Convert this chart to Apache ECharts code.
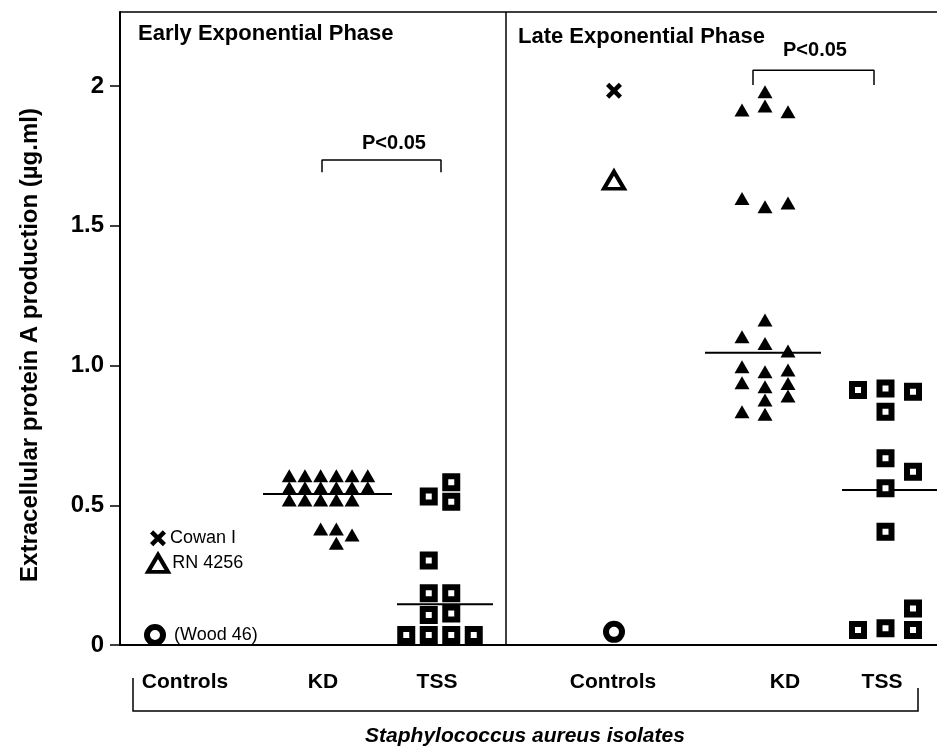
<!DOCTYPE html>
<html>
<head>
<meta charset="utf-8">
<script src="https://cdn.jsdelivr.net/npm/echarts@6/dist/echarts.min.js"></script>
<style>
html,body{margin:0;padding:0;background:#fff;}
#main{width:937px;height:746px;}
</style>
</head>
<body>
<div id="main"></div>
<script>
// ---------------- DATA ----------------
const categories = ['Controls', 'KD', 'TSS', 'Controls', 'KD', 'TSS'];
const yTickValues = [0, 0.5, 1.0, 1.5, 2];
const yTickLabels = ['0', '0.5', '1.0', '1.5', '2'];

// Controls (early / late): Cowan I, RN 4256, Wood 46
const controlNames = ['Cowan I', 'RN 4256', '(Wood 46)'];
const earlyControls = [0.382, 0.292, 0.036];
const lateControls = [1.983, 1.663, 0.047];

// Early exponential phase - KD isolates (values + column slot in the dot plot)
const earlyKD = [0.606, 0.606, 0.606, 0.606, 0.606, 0.606,
                 0.563, 0.563, 0.563, 0.563, 0.563, 0.563,
                 0.519, 0.519, 0.519, 0.519, 0.519,
                 0.415, 0.415, 0.394, 0.364];
const earlyKDCols = [-2.5, -1.5, -0.5, 0.5, 1.5, 2.5,
                     -2.5, -1.5, -0.5, 0.5, 1.5, 2.5,
                     -2.5, -1.5, -0.5, 0.5, 1.5,
                     -0.5, 0.5, 1.5, 0.5];

// Early exponential phase - TSS isolates
const earlyTSS = [0.531, 0.582, 0.513, 0.302, 0.185, 0.185, 0.107, 0.113, 0.036, 0.036, 0.036, 0.036];
const earlyTSSCols = [-0.5, 0.5, 0.5, -0.5, -0.5, 0.5, -0.5, 0.5, -1.5, -0.5, 0.5, 1.5];

// Late exponential phase - KD isolates
const lateKD = [1.980, 1.914, 1.929, 1.908, 1.598, 1.568, 1.582,
                1.163, 1.103, 1.079, 1.052, 0.996, 0.978, 0.984,
                0.938, 0.924, 0.936, 0.877, 0.891, 0.835, 0.826];
const lateKDCols = [0, -1, 0, 1, -1, 0, 1,
                    0, -1, 0, 1, -1, 0, 1,
                    -1, 0, 1, 0, 1, -1, 0];

// Late exponential phase - TSS isolates
const lateTSS = [0.912, 0.918, 0.906, 0.835, 0.668, 0.620, 0.561, 0.405, 0.131, 0.054, 0.060, 0.054];
const lateTSSCols = [-1, 0, 1, 0, 0, 1, 0, 0, 1, -1, 0, 1];

// Medians (horizontal bars)
const medians = { earlyKD: 0.540, earlyTSS: 0.146, lateKD: 1.046, lateTSS: 0.555 };

// Significance brackets
const sigLabel = 'P<0.05';
const bracketEarly = { top: 1.735, foot: 1.692 };
const bracketLate = { top: 2.057, foot: 2.004 };

// ---------------- LAYOUT (positions in x-axis units) ----------------
const L = {
  ctrlEarly: 38, kdEarly: 208.5, tssEarly: 320,
  ctrlLate: 494, kdLate: 645, tssLate: 765.5,
  kdEarlyCol: 15.7, tssEarlyCol: 22.5, kdLateCol: 23, tssLateCol: 27.5,
  divider: 386,
  medEarlyKD: [143, 272], medEarlyTSS: [277, 373], medLateKD: [585, 701], medLateTSS: [722, 817],
  brEarly: [202, 321], brLate: [633, 754]
};

function pts(vals, cols, center, w) {
  return vals.map((v, i) => [center + cols[i] * w, v]);
}
function hline(range, v) { return [[range[0], v], [range[1], v]]; }
function bracket(r, b) { return [[r[0], b.foot], [r[0], b.top], [r[1], b.top], [r[1], b.foot]]; }

const FONT = 'Liberation Sans';
const crossPath = 'path://M2,0 L5,3 L8,0 L10,2 L7,5 L10,8 L8,10 L5,7 L2,10 L0,8 L3,5 L0,2 Z';

const triStyle = { color: '#000', opacity: 1 };
const squareStyle = { color: '#fff', borderColor: '#000', borderWidth: 6, opacity: 1 };

const chart = echarts.init(document.getElementById('main'), null, { renderer: 'canvas' });

const lineBase = { type: 'line', symbol: 'none', silent: true, animation: false,
  lineStyle: { color: '#000', width: 2 }, z: 1 };

chart.setOption({
  backgroundColor: '#fff',
  animation: false,
  grid: { left: 120, right: 0, top: 12, bottom: 101, show: false },
  xAxis: [{
    type: 'value', min: 0, max: 817,
    axisLine: { show: true, lineStyle: { color: '#000', width: 2 } },
    axisTick: { show: false }, axisLabel: { show: false }, splitLine: { show: false }
  }, {
    type: 'value', min: 0, max: 817, position: 'top',
    axisLine: { show: true, lineStyle: { color: '#000', width: 1.5 } },
    axisTick: { show: false }, axisLabel: { show: false }, splitLine: { show: false }
  }],
  yAxis: {
    type: 'value', min: 0, max: 2.265,
    axisLine: { show: true, lineStyle: { color: '#000', width: 2 } },
    axisTick: { show: true, length: 10, inside: false, customValues: yTickValues, lineStyle: { color: '#000', width: 1.5 } },
    axisLabel: {
      customValues: yTickValues, margin: 16, color: '#000', fontFamily: FONT, fontWeight: 'bold', fontSize: 24,
      formatter: v => yTickLabels[yTickValues.indexOf(v)] ?? ''
    },
    splitLine: { show: false }
  },
  series: [
    // controls
    { type: 'scatter', symbol: crossPath, symbolSize: 16, itemStyle: { color: '#000', opacity: 1 },
      data: [[L.ctrlEarly, earlyControls[0]], [L.ctrlLate, lateControls[0]]],
      label: { show: true, position: 'right', distance: 4, color: '#000', fontFamily: FONT, fontSize: 18,
        formatter: p => p.dataIndex === 0 ? controlNames[0] : '' } },
    { type: 'scatter', symbol: 'triangle', symbolSize: [20, 17], itemStyle: { color: '#fff', borderColor: '#000', borderWidth: 4, opacity: 1 },
      data: [[L.ctrlEarly, earlyControls[1]], [L.ctrlLate, lateControls[1]]],
      label: { show: true, position: 'right', distance: 2, color: '#000', fontFamily: FONT, fontSize: 18,
        formatter: p => p.dataIndex === 0 ? controlNames[1] : '' } },
    { type: 'scatter', symbol: 'circle', symbolSize: 16, itemStyle: { color: '#fff', borderColor: '#000', borderWidth: 6, opacity: 1 },
      data: [[L.ctrlEarly - 3, earlyControls[2]], [L.ctrlLate, lateControls[2]]],
      label: { show: true, position: 'right', distance: 8, color: '#000', fontFamily: FONT, fontSize: 18,
        formatter: p => p.dataIndex === 0 ? controlNames[2] : '' } },
    // KD
    { type: 'scatter', symbol: 'triangle', symbolSize: [15, 13], itemStyle: triStyle,
      data: pts(earlyKD, earlyKDCols, L.kdEarly, L.kdEarlyCol), z: 3 },
    { type: 'scatter', symbol: 'triangle', symbolSize: [15, 13], itemStyle: triStyle,
      data: pts(lateKD, lateKDCols, L.kdLate, L.kdLateCol), z: 3 },
    // TSS
    { type: 'scatter', symbol: 'rect', symbolSize: 12, itemStyle: squareStyle,
      data: pts(earlyTSS, earlyTSSCols, L.tssEarly, L.tssEarlyCol), z: 3 },
    { type: 'scatter', symbol: 'rect', symbolSize: 12, itemStyle: squareStyle,
      data: pts(lateTSS, lateTSSCols, L.tssLate, L.tssLateCol), z: 3 },
    // medians
    Object.assign({}, lineBase, { data: hline(L.medEarlyKD, medians.earlyKD) }),
    Object.assign({}, lineBase, { data: hline(L.medEarlyTSS, medians.earlyTSS) }),
    Object.assign({}, lineBase, { data: hline(L.medLateKD, medians.lateKD) }),
    Object.assign({}, lineBase, { data: hline(L.medLateTSS, medians.lateTSS) }),
    // brackets
    Object.assign({}, lineBase, { lineStyle: { color: '#000', width: 1.5 }, data: bracket(L.brEarly, bracketEarly) }),
    Object.assign({}, lineBase, { lineStyle: { color: '#000', width: 1.5 }, data: bracket(L.brLate, bracketLate) }),
    // divider
    Object.assign({}, lineBase, { lineStyle: { color: '#000', width: 1.5 }, data: [[L.divider, 0], [L.divider, 2.265]] })
  ],
  graphic: [
    { type: 'text', left: 138, top: 23, style: { text: 'Early Exponential Phase', font: 'bold 22px "Liberation Sans"', fill: '#000' } },
    { type: 'text', left: 518, top: 26, style: { text: 'Late Exponential Phase', font: 'bold 22px "Liberation Sans"', fill: '#000' } },
    { type: 'text', x: 394, y: 143, style: { text: sigLabel, font: 'bold 20px "Liberation Sans"', fill: '#000', align: 'center', verticalAlign: 'middle' } },
    { type: 'text', x: 815, y: 50, style: { text: sigLabel, font: 'bold 20px "Liberation Sans"', fill: '#000', align: 'center', verticalAlign: 'middle' } },
    { type: 'text', x: 30, y: 345, rotation: Math.PI / 2,
      style: { text: 'Extracellular protein A production (\u00b5g.ml)', font: 'bold 24px "Liberation Sans"', fill: '#000', align: 'center', verticalAlign: 'middle' } },
    ...categories.map((c, i) => ({ type: 'text', x: [185, 323, 437, 613, 785, 882][i], y: 682,
      style: { text: c, font: 'bold 21px "Liberation Sans"', fill: '#000', align: 'center', verticalAlign: 'middle' } })),
    { type: 'polyline', shape: { points: [[133, 678], [133, 711], [918, 711], [918, 688]] }, style: { stroke: '#000', lineWidth: 1.5, fill: null } },
    { type: 'text', x: 525, y: 736, style: { text: 'Staphylococcus aureus isolates', font: 'italic bold 21px "Liberation Sans"', fill: '#000', align: 'center', verticalAlign: 'middle' } }
  ]
});
</script>
</body>
</html>
